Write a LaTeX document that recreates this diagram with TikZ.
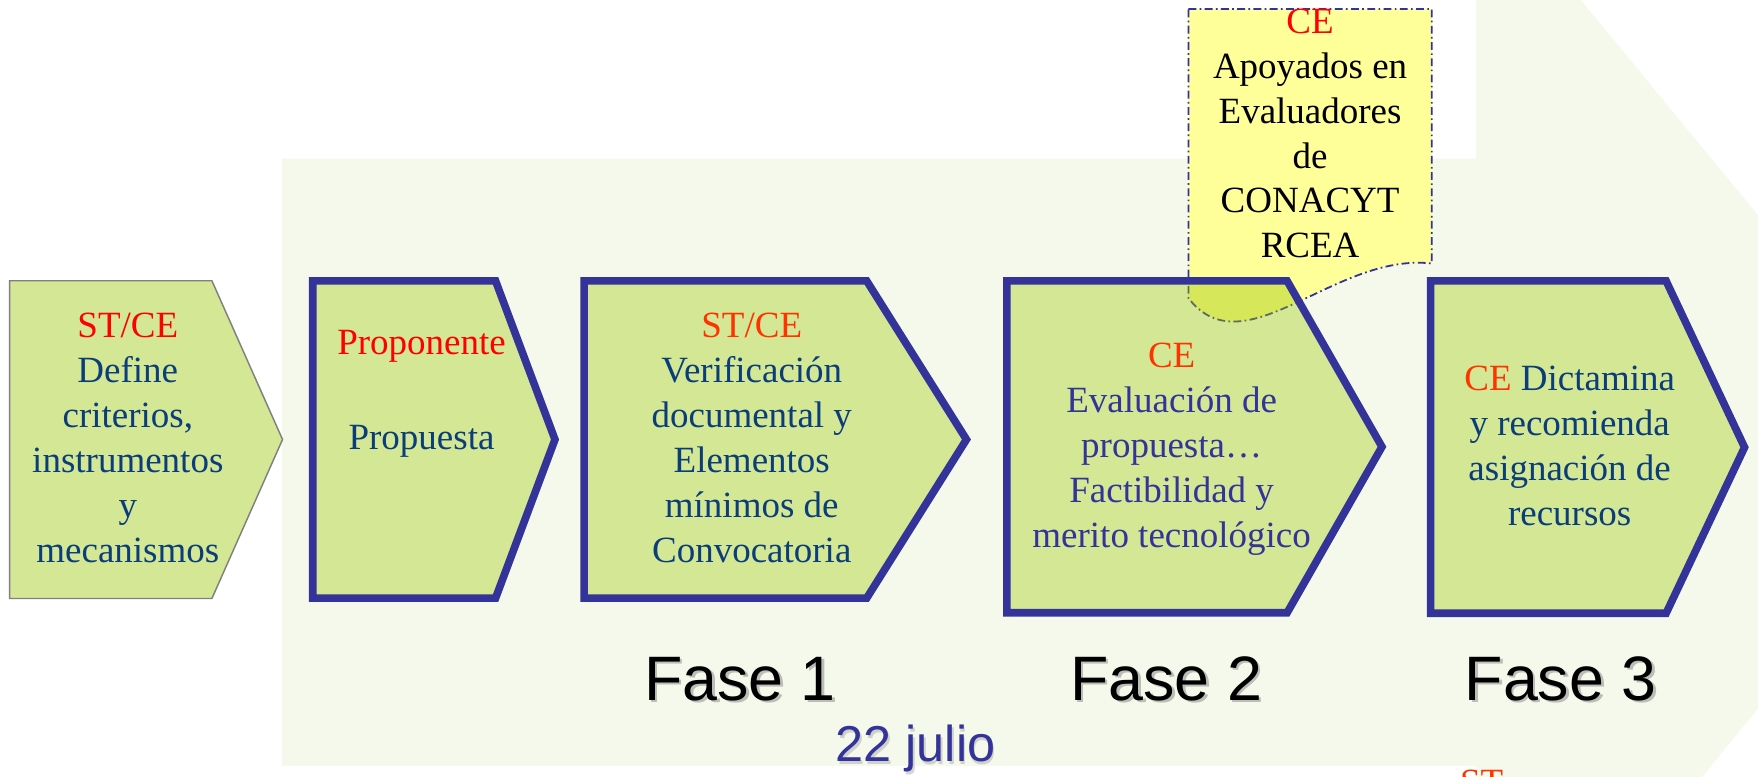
\documentclass[tikz,border=0pt]{standalone}
\usepackage{fontspec}
\setmainfont{Liberation Serif}
\newfontfamily\arialf{Liberation Sans}
\definecolor{palebg}{HTML}{F5F9EB}
\definecolor{boxgreen}{HTML}{D3E794}
\definecolor{navy}{HTML}{333399}
\definecolor{txtblue}{HTML}{0A3D7A}
\definecolor{redA}{HTML}{FF0000}
\definecolor{redB}{HTML}{FF3300}
\definecolor{calloutyellow}{HTML}{FFFF99}
\definecolor{overlapgreen}{HTML}{D6E85A}
\definecolor{overlapline}{HTML}{5E6B5E}
\tikzset{
  chevfill/.style={fill=boxgreen},
  chevline/.style={draw=navy, line width=6.8pt, line join=miter},
  boxtext/.style={align=center, inner sep=0pt, font=\fontsize{33}{40}\selectfont,
    text=txtblue, execute at begin node=\strut, execute at end node=\strut},
  fasetext/.style={font=\arialf\fontsize{56}{60}\selectfont, anchor=base, inner sep=0pt},
  shadowtext/.style={text=black!45, opacity=0.55},
  dashdotline/.style={line width=1.6pt, dash pattern=on 7pt off 3pt on 1.5pt off 3pt},
}
\begin{document}
\begin{tikzpicture}[x=1pt,y=-1pt]
\path[use as bounding box] (0,0) rectangle (1568,693);
\clip (0,0) rectangle (1568,693);
\fill[white] (0,0) rectangle (1568,693);
% pale background arrow
\fill[palebg] (251.5,141.5) -- (1316.5,141.5) -- (1316.5,0) -- (1410,0) -- (1568,192)
  -- (1568,632) -- (1518,693) -- (1316.5,693) -- (1316.5,683) -- (251.5,683) -- cycle;
% callout
\fill[calloutyellow] (1060,8) -- (1277,8) -- (1277,235) .. controls (1190,225) and (1110,330) .. (1060,266) -- cycle;
\draw[navy, dashdotline] (1060,8) -- (1277,8) -- (1277,235) .. controls (1190,225) and (1110,330) .. (1060,266) -- cycle;
% box fills
\fill[boxgreen, draw=black!50, line width=1.3pt] (8.5,250.4) -- (189,250.4) -- (252,392) -- (189,533.8) -- (8.5,533.8) -- cycle;
\fill[chevfill] (279,250.5) -- (442,250.5) -- (495,392) -- (442,533.5) -- (279,533.5) -- cycle;
\fill[chevfill] (521,250.5) -- (773,250.5) -- (862,392) -- (773,533.5) -- (521,533.5) -- cycle;
\fill[chevfill] (898,250.5) -- (1148,250.5) -- (1232.6,398.5) -- (1148,546.5) -- (898,546.5) -- cycle;
\fill[chevfill] (1276,250.5) -- (1486,250.5) -- (1556,399) -- (1486,547) -- (1276,547) -- cycle;
% overlap of callout with box 4
\begin{scope}
\clip (898,250.5) -- (1148,250.5) -- (1232.6,398.5) -- (1148,546.5) -- (898,546.5) -- cycle;
\fill[overlapgreen] (1060,8) -- (1277,8) -- (1277,235) .. controls (1190,225) and (1110,330) .. (1060,266) -- cycle;
\draw[overlapline, dashdotline] (1060,8) -- (1277,8) -- (1277,235) .. controls (1190,225) and (1110,330) .. (1060,266) -- cycle;
\end{scope}
% box borders
\draw[chevline] (279,250.5) -- (442,250.5) -- (495,392) -- (442,533.5) -- (279,533.5) -- cycle;
\draw[chevline] (521,250.5) -- (773,250.5) -- (862,392) -- (773,533.5) -- (521,533.5) -- cycle;
\draw[chevline] (898,250.5) -- (1148,250.5) -- (1232.6,398.5) -- (1148,546.5) -- (898,546.5) -- cycle;
\draw[chevline] (1276,250.5) -- (1486,250.5) -- (1556,399) -- (1486,547) -- (1276,547) -- cycle;
% texts
\node[boxtext] (t1) at (114,396.5) {\textcolor{redA}{ST/CE}\\Define\\criterios,\\instrumentos\\y\\mecanismos};
\node[boxtext] (t2) at (376,353.5) {\textcolor{redA}{Proponente}\\[45pt]Propuesta};
\node[boxtext] (t3) at (670.5,396.5) {\textcolor{redB}{ST/CE}\\Verificación\\documental y\\Elementos\\mínimos de\\Convocatoria};
\node[boxtext, text=navy] (t4) at (1045,403) {\textcolor{redB}{CE}\\Evaluación de\\propuesta…\\Factibilidad y\\merito tecnológico};
\node[boxtext] (t5) at (1400,403.5) {\textcolor{redB}{CE} Dictamina\\y recomienda\\asignación de\\recursos};
\node[boxtext, text=black] (tc) at (1168.5,125) {\textcolor{redA}{CE}\\Apoyados en\\Evaluadores\\de\\CONACYT\\RCEA};
% phase labels with shadow
\node[fasetext, shadowtext] (f1s) at (662.5,627) {Fase 1};
\node[fasetext] (f1) at (660,624.5) {Fase 1};
\node[fasetext, shadowtext] (f2s) at (1042.5,627) {Fase 2};
\node[fasetext] (f2) at (1040,624.5) {Fase 2};
\node[fasetext, shadowtext] (f3s) at (1394.5,627) {Fase 3};
\node[fasetext] (f3) at (1392,624.5) {Fase 3};
\node[anchor=base, inner sep=0pt, font=\arialf\fontsize{45}{50}\selectfont, shadowtext, opacity=0.35] (jls) at (818,681.5) {22 julio};
\node[anchor=base, inner sep=0pt, font=\arialf\fontsize{45}{50}\selectfont, text=navy] (jl) at (816.5,679.5) {22 julio};
\node[anchor=base, inner sep=0pt, font=\fontsize{33}{40}\selectfont, text=redB] (st) at (1321.5,709) {ST};
\end{tikzpicture}
\end{document}
